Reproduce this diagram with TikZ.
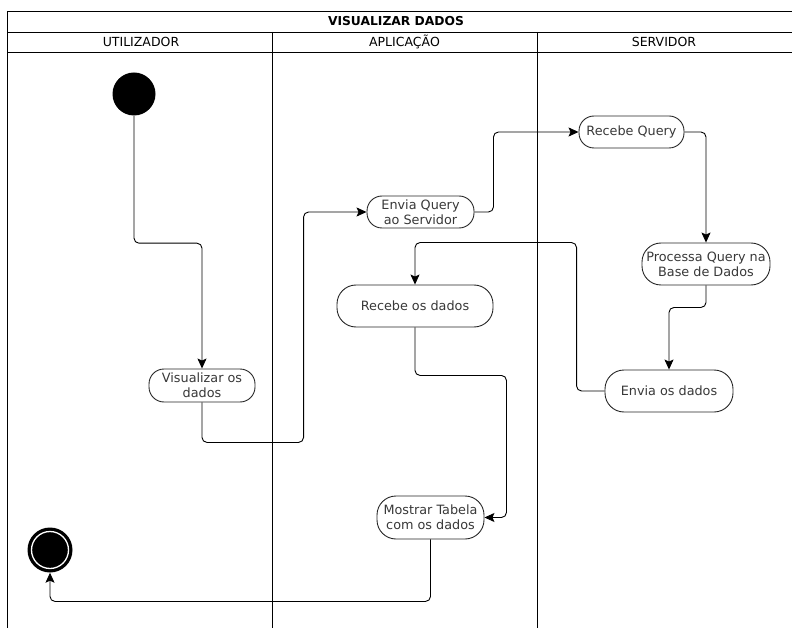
\documentclass[tikz,border=0pt]{standalone}
\usepackage{fontspec}
\setmainfont{DejaVu Sans}
\usetikzlibrary{arrows.meta,calc}
\begin{document}
\begin{tikzpicture}[x=1pt,y=-1pt,
  lane/.style={draw=black, line width=0.9pt},
  act/.style={draw=black!85, line width=0.9pt, rounded corners=15pt, align=center,
    inner sep=0pt, text=black!78, font=\fontsize{12.8}{15}\selectfont},
  hdr/.style={font=\fontsize{12.5}{14}\selectfont, text=black},
  arr/.style={draw=black, line width=0.9pt, rounded corners=5pt,
    -{Stealth[length=10pt,width=9pt,inset=2pt]}}
]
\useasboundingbox (0,0) rectangle (792,628);
% swimlane frame
\draw[lane] (7,628) -- (7,11) -- (792,11);
\draw[lane] (7,32) -- (792,32);
\draw[lane] (7,52) -- (792,52);
\draw[lane] (272,32) -- (272,628);
\draw[lane] (537,32) -- (537,628);
\node[hdr, font=\bfseries\fontsize{12.3}{14}\selectfont] (title) at (396,21.5) {VISUALIZAR DADOS};
\node[hdr] (h1) at (141,42) {UTILIZADOR};
\node[hdr] (h2) at (404.5,42) {APLICAÇÃO};
\node[hdr] (h3) at (664,42) {SERVIDOR};
% start / end
\node[circle, fill=black, minimum size=43pt, inner sep=0pt] (start) at (134,94) {};
\node[circle, fill=black, minimum size=45pt, inner sep=0pt] (end) at (50,550) {};
\draw[white, line width=1.3pt] (end.center) circle (18.5pt);
% activities
\node[act, minimum width=106pt, minimum height=33pt] (viz) at (202,385.5) {Visualizar os\\dados};
\node[act, minimum width=107pt, minimum height=32pt] (envq) at (420.5,212) {Envia Query\\ao Servidor};
\node[act, minimum width=105pt, minimum height=32pt] (rq) at (631.5,132) {Recebe Query};
\node[act, minimum width=128pt, minimum height=42pt, rounded corners=19pt] (proc) at (706,264) {Processa Query na\\Base de Dados};
\node[act, minimum width=128pt, minimum height=42pt, rounded corners=19pt] (env) at (669,391) {Envia os dados};
\node[act, minimum width=156pt, minimum height=42pt, rounded corners=19pt] (rd) at (415,306) {Recebe os dados};
\node[act, minimum width=107pt, minimum height=43pt, rounded corners=19pt] (mt) at (430.5,517.5) {Mostrar Tabela\\com os dados};
% connectors
\draw[arr] (start.south) -- ++(0,127.5) -| (viz.north);
\draw[arr] (viz.south) -- ++(0,40) -| ($(envq.west)+(-63,0)$) -- (envq.west);
\draw[arr] (envq.east) -- ++(19,0) |- (rq.west);
\draw[arr] (rq.east) -| (proc.north);
\draw[arr] (proc.south) -- ++(0,22) -| (env.north);
\draw[arr] (env.west) -- ++(-28,0) |- ($(rd.north)+(0,-42)$) -- (rd.north);
\draw[arr] (rd.south) -- ++(0,48) -| ($(mt.east)+(22,0)$) -- (mt.east);
\draw[arr] (mt.south) -- ++(0,62) -| (end.south);
\end{tikzpicture}
\end{document}
